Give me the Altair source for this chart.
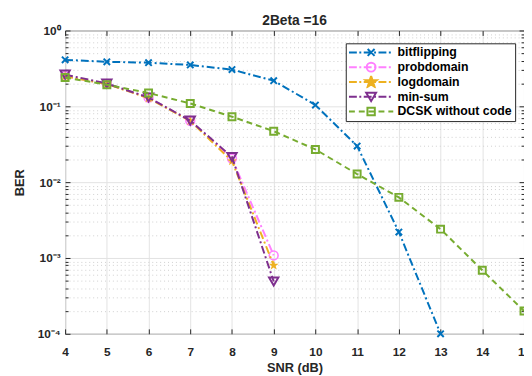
import math
import altair as alt
import pandas as pd

# ---------------- data ----------------
names = ["bitflipping", "probdomain", "logdomain", "min-sum", "DCSK without code"]
colors = ["#0072BD", "#FF80FF", "#EDB120", "#7E2F8E", "#77AC30"]

snr_bit = [4, 5, 6, 7, 8, 9, 10, 11, 12, 13]
ber_bit = [0.41, 0.387, 0.376, 0.351, 0.305, 0.218, 0.104, 0.0299, 0.0022, 0.0001]

snr_coded = [4, 5, 6, 7, 8, 9]
ber_prob = [0.25, 0.198, 0.13, 0.0645, 0.0205, 0.00108]
ber_log = [0.248, 0.197, 0.128, 0.064, 0.019, 0.0008]
ber_min = [0.262, 0.2, 0.131, 0.0648, 0.0215, 0.00049]

snr_dcsk = [4, 5, 6, 7, 8, 9, 10, 11, 12, 13, 14, 15]
ber_dcsk = [0.24, 0.193, 0.150, 0.109, 0.073, 0.047, 0.027, 0.0128, 0.0063, 0.0024, 0.00069, 0.0002]

x_ticks = [4, 5, 6, 7, 8, 9, 10, 11, 12, 13, 14, 15]
y_major = [1e-4, 1e-3, 1e-2, 1e-1, 1]
y_minor = [m * 10.0 ** e for e in (-4, -3, -2, -1) for m in range(2, 10)]

series = [
    (names[0], snr_bit, ber_bit),
    (names[1], snr_coded, ber_prob),
    (names[2], snr_coded, ber_log),
    (names[3], snr_coded, ber_min),
    (names[4], snr_dcsk, ber_dcsk),
]
rows = []
for nm, xs, ys in series:
    for a, b in zip(xs, ys):
        rows.append({"series": nm, "snr": a, "ber": b})
df = pd.DataFrame(rows)

# ---------------- styling ----------------
W, H = 466, 308
FONT = "Liberation Sans"

def star_path(R, r):
    pts = []
    for k in range(10):
        ang = math.radians(-90 + 36 * k)
        rad = R if k % 2 == 0 else r
        pts.append((rad * math.cos(ang), rad * math.sin(ang)))
    return "M" + "L".join(f"{px:.3f},{py:.3f}" for px, py in pts) + "Z"

X_PATH = "M-1,-1L1,1M-1,1L1,-1"
STAR_PLOT = star_path(1.0, 0.4)

def dash_segments(pattern, start=-4.5, end=4.5):
    out, pos, i = [], start, 0
    while pos < end:
        seg = pattern[i % len(pattern)]
        if i % 2 == 0:
            out.append(f"M{pos:.2f},0H{min(pos + seg, end):.2f}")
        pos += seg
        i += 1
    return "".join(out)

DASHDOT = dash_segments([1.6, 0.5, 0.4, 0.5])
DASHED = dash_segments([1.2, 0.8])
legend_paths = [
    DASHDOT + "M-0.7,-0.7L0.7,0.7M-0.7,0.7L0.7,-0.7",
    DASHDOT + "M-0.9,0A0.9,0.9 0 1,0 0.9,0A0.9,0.9 0 1,0 -0.9,0Z",
    DASHDOT + star_path(1.2, 0.48),
    DASHDOT + "M-1,-0.8L1,-0.8L0,0.9Z",
    DASHED + "M-0.75,-0.75H0.75V0.75H-0.75Z",
]
legend_fills = ["transparent", "transparent", colors[2], "transparent", "transparent"]

line_dash = [[8, 3, 2, 3], [8, 3, 2, 3], [8, 3, 2, 3], [8, 3, 2, 3], [6, 4]]
marker = [
    dict(shape=X_PATH, size=42, filled=False, strokeWidth=2),
    dict(shape="circle", size=80, filled=False, strokeWidth=1.6),
    dict(shape=STAR_PLOT, size=110, filled=True, strokeWidth=0),
    dict(shape="triangle-down", size=90, filled=False, strokeWidth=2),
    dict(shape="square", size=50, filled=False, strokeWidth=2),
]

x_scale = alt.Scale(domain=[4, 15], nice=False, zero=False)
y_scale = alt.Scale(type="log", domain=[1e-4, 1], nice=False)

NO_AXIS = None
main_x_axis = alt.Axis(values=x_ticks, grid=True, gridColor="#E3E3E3", ticks=False, domain=False,
                       labelFont=FONT, labelFontWeight="bold", labelFontSize=12, labelColor="#262626",
                       labelPadding=13, labelFlush=False, labelOverlap=False,
                       title="SNR (dB)", titleFont=FONT, titleFontWeight="bold", titleFontSize=13,
                       titleColor="#262626", titleBaseline="middle", titleY=34, offset=0)
main_y_axis = alt.Axis(values=y_major, grid=True, gridColor="#E3E3E3", ticks=False, domain=False,
                       labelExpr="'10' + ['⁰','⁻¹','⁻²','⁻³','⁻⁴'][round(-log(datum.value)/LN10)]",
                       labelFont=FONT, labelFontWeight="bold", labelFontSize=12, labelColor="#262626",
                       labelPadding=5, labelFlush=False, labelOverlap=False,
                       title="BER", titleFont=FONT, titleFontWeight="bold", titleFontSize=13,
                       titleColor="#262626", titleAngle=-90, titleX=-46, titleY=H / 2,
                       titleAlign="center", titleBaseline="middle", offset=0)

def tick_axis(values, orient, offset, size):
    return alt.Axis(values=values, orient=orient, offset=offset, grid=False, labels=False,
                    ticks=True, tickSize=size, tickColor="#262626", tickWidth=1,
                    domain=False, title=None)

minor_grid_axis = alt.Axis(values=y_minor, orient="left", offset=0, grid=True, gridDash=[1, 3],
                           gridColor="#CFCFCF", labels=False, ticks=False, domain=False, title=None)

axes_plan = [
    (main_x_axis, main_y_axis),
    (tick_axis(x_ticks, "bottom", -H, 5), tick_axis(y_major, "left", -W, 5)),
    (tick_axis(x_ticks, "top", -H, 5), tick_axis(y_major, "right", -W, 5)),
    (NO_AXIS, minor_grid_axis),
    (NO_AXIS, tick_axis(y_minor, "right", -W, 3)),
    (NO_AXIS, tick_axis(y_minor, "left", -W, 3)),
]

base = alt.Chart(df)
layers = []
k = 0
for i, nm in enumerate(names):
    filt = alt.datum.series == nm
    for kind in ("line", "point"):
        ax = axes_plan[k] if k < len(axes_plan) else (NO_AXIS, NO_AXIS)
        k += 1
        enc = dict(x=alt.X("snr:Q", scale=x_scale, axis=ax[0]),
                   y=alt.Y("ber:Q", scale=y_scale, axis=ax[1]))
        if kind == "line":
            m = base.mark_line(color=colors[i], strokeWidth=2, strokeDash=line_dash[i])
        else:
            mk = marker[i]
            if mk["filled"]:
                m = base.mark_point(shape=mk["shape"], size=mk["size"], filled=True,
                                    fill=colors[i], color=colors[i], strokeWidth=0, opacity=1)
            else:
                m = base.mark_point(shape=mk["shape"], size=mk["size"], filled=False,
                                    stroke=colors[i], strokeWidth=mk["strokeWidth"], opacity=1)
        layers.append(m.transform_filter(filt).encode(**enc))

# legend carrier (no marks drawn, only the legend)
legend_layer = base.mark_point(filled=False, opacity=1).transform_filter("false").encode(
    x=alt.X("snr:Q", scale=x_scale, axis=None),
    y=alt.Y("ber:Q", scale=y_scale, axis=None),
    color=alt.Color("series:N", scale=alt.Scale(domain=names, range=colors), legend=alt.Legend(title=None)),
    shape=alt.Shape("series:N", scale=alt.Scale(domain=names, range=legend_paths), legend=alt.Legend(title=None)),
    fill=alt.Fill("series:N", scale=alt.Scale(domain=names, range=legend_fills), legend=alt.Legend(title=None)),
)
layers.append(legend_layer)

chart = alt.layer(*layers).resolve_axis(x="independent", y="independent").properties(
    width=W, height=H,
    title=alt.Title("2Beta =16", font=FONT, fontSize=14, fontWeight="bold", color="#262626",
                    anchor="middle", offset=0, dy=3, frame="group"),
    autosize=alt.AutoSizeParams(type="none"),
    padding={"left": 58, "top": 20, "right": 0, "bottom": 40},
).configure_view(stroke="#555555", strokeWidth=1).configure_legend(
    orient="none", legendX=285, legendY=13, direction="vertical", columns=1,
    fillColor="white", strokeColor="#262626", padding=3, cornerRadius=0,
    symbolSize=100, symbolStrokeWidth=2, symbolOffset=16.5, labelOffset=20.5,
    clipHeight=12.5,
    labelFont=FONT, labelFontWeight="bold", labelFontSize=12.5, labelColor="#000000",
    rowPadding=2, symbolOpacity=1,
)

chart.save("out.html", embed_options={"renderer": "svg", "actions": False})
